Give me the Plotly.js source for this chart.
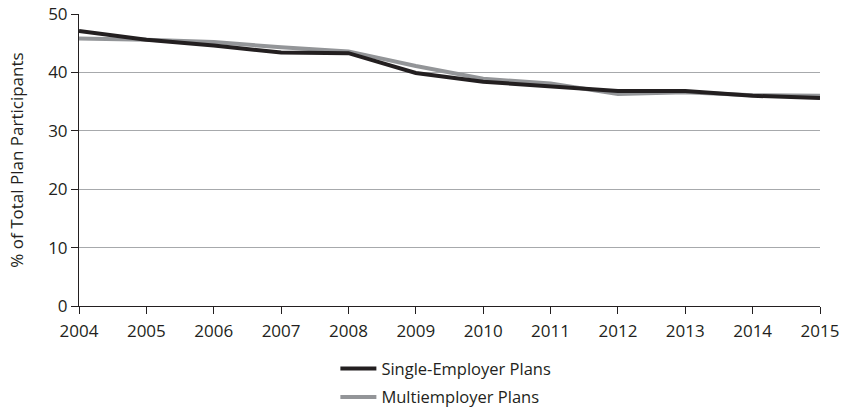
<!DOCTYPE html>
<html><head><meta charset="utf-8">
<script src="https://cdn.plot.ly/plotly-3.0.1.min.js"></script>
<style>body{margin:0;background:#fff}#c{width:842px;height:407px}</style>
</head><body><div id="c"></div>
<script>
var years = [2004,2005,2006,2007,2008,2009,2010,2011,2012,2013,2014,2015];
var singleEmployer = [47.1,45.6,44.6,43.4,43.3,39.9,38.4,37.6,36.8,36.8,36.0,35.6];
var multiemployer  = [45.8,45.6,45.2,44.3,43.6,41.1,38.9,38.1,36.3,36.6,36.1,36.0];
var yTicks = [0,10,20,30,40,50];

var fam = '"Open Sans", "Noto Sans", sans-serif';
var font = {family:fam, size:17, color:'#231f20'};
var traces = [
  {x:years, y:multiemployer, name:'Multiemployer Plans', mode:'lines', legendgroup:'m',
   line:{color:'#939598', width:4}, legendrank:2},
  {x:years, y:singleEmployer, name:'Single-Employer Plans', mode:'lines', legendgroup:'s',
   line:{color:'#231f20', width:4}, legendrank:1}
];
var layout = {
  width:842, height:407,
  margin:{l:79, r:22, t:14, b:101, autoexpand:false},
  paper_bgcolor:'#fff', plot_bgcolor:'#fff',
  font:font,
  showlegend:true,
  legend:{orientation:'v', x:0.346, xanchor:'left', y:-0.155, yanchor:'top', bgcolor:'rgba(0,0,0,0)',
          font:{family:fam, size:16.5, color:'#231f20'}, itemwidth:36, tracegroupgap:4},
  xaxis:{range:[2004,2015], tickvals:years, ticktext:years.map(String),
         showgrid:false, zeroline:false, showline:true, linecolor:'#231f20', linewidth:1,
         ticks:'outside', ticklen:7, tickcolor:'#231f20', tickfont:font, ticklabelstandoff:3, fixedrange:true},
  yaxis:{range:[0,50], tickvals:yTicks, showgrid:true, gridcolor:'#a7a9ac', gridwidth:1,
         zeroline:false, showline:true, linecolor:'#231f20', linewidth:1,
         ticks:'outside', ticklen:7, tickcolor:'#231f20', tickfont:font,
         title:{text:'% of Total Plan Participants', font:{family:fam, size:17, color:'#231f20'}, standoff:20}}
};
Plotly.newPlot('c', traces, layout, {displayModeBar:false, staticPlot:true});
</script></body></html>
